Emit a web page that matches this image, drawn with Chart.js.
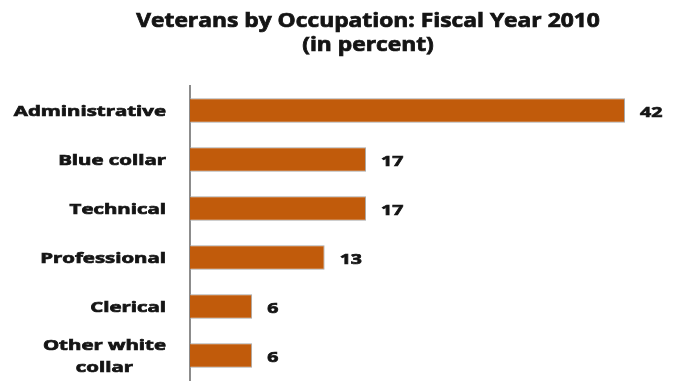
<!DOCTYPE html>
<html>
<head>
<meta charset="utf-8">
<script src="https://cdn.jsdelivr.net/npm/chart.js@4"></script>
<style>
  html, body { margin: 0; padding: 0; background: #fff; }
  #wrap { width: 673px; height: 384px; }
</style>
</head>
<body>
<div id="wrap"><canvas id="chart1"></canvas></div>
<script>
// occupations and their share of veterans (percent)
var occupations = ["Administrative", "Blue collar", "Technical", "Professional", "Clerical", ["Other white", "collar"]];
var percents = [42, 17, 17, 13, 6, 6];
var titleLines = ["Veterans by Occupation: Fiscal Year 2010", "(in percent)"];

var textColor = "#141414";
var fontFamily = "'Open Sans', sans-serif";
var stretch = 1.36;

// draw text a bit wider (and heavier) than the font's own proportions
function wideText(ctx, text, x, y, align, sx) {
	ctx.save();
	ctx.translate(x, y);
	ctx.scale(sx, 1);
	ctx.textAlign = align;
	ctx.lineWidth = 0.7;
	ctx.strokeStyle = textColor;
	ctx.strokeText(text, 0, 0);
	ctx.fillText(text, 0, 0);
	ctx.restore();
}

var textLayer = {
	id: "textLayer",
	afterDraw: function (chart) {
		var ctx = chart.ctx;
		var area = chart.chartArea;
		var yScale = chart.scales.y;
		var meta = chart.getDatasetMeta(0);
		ctx.save();
		ctx.fillStyle = textColor;
		ctx.textBaseline = "alphabetic";

		// title
		ctx.font = "bold 19px " + fontFamily;
		wideText(ctx, titleLines[0], 368, 27, "center", 1.2);
		wideText(ctx, titleLines[1], 368, 51, "center", 1.2);

		// category labels, right aligned against the axis
		ctx.font = "bold 15px " + fontFamily;
		var right = area.left - 24;
		var lh = 22;
		chart.data.labels.forEach(function (lab, i) {
			var lines = Array.isArray(lab) ? lab : [lab];
			var y = yScale.getPixelForValue(i);
			var bw = 0;
			lines.forEach(function (l) { bw = Math.max(bw, ctx.measureText(l).width * stretch); });
			var top = y - (lines.length - 1) * lh / 2;
			lines.forEach(function (l, k) {
				wideText(ctx, l, right - bw / 2, top + k * lh + 5.5, "center", stretch);
			});
		});

		// value labels at the end of each bar
		meta.data.forEach(function (bar, i) {
			wideText(ctx, String(percents[i]), bar.x + 15, bar.y + 6, "left", 1.3);
		});
		ctx.restore();
	}
};

var ctx = document.getElementById("chart1").getContext("2d");
var chartdata = {
	type: "bar",
	data: {
		labels: occupations,
		datasets: [
			{
				data: percents,
				backgroundColor: "#C15B0B",
				borderColor: "#A9A9A9",
				borderWidth: 1,
				barPercentage: 0.5,
				categoryPercentage: 1.0,
			}
		]
	},
	options: {
		indexAxis: "y",
		responsive: true,
		maintainAspectRatio: false,
		animation: false,
		layout: { padding: { top: 86, right: 48, bottom: 4, left: 0 } },
		plugins: {
			legend: { display: false },
			title: { display: false },
			tooltip: { enabled: false }
		},
		scales: {
			x: { display: false, min: 0, max: 42 },
			y: {
				ticks: { display: false },
				grid: { display: false },
				border: { display: true, color: "#8C8C8C", width: 2 },
				afterFit: function (scale) { scale.width = 190; }
			}
		}
	},
	plugins: [textLayer]
};

new Chart(ctx, chartdata);
</script>
</body>
</html>
